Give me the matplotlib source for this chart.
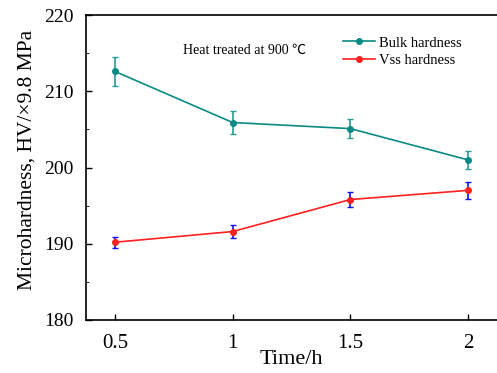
import matplotlib
matplotlib.use("Agg")
import matplotlib.pyplot as plt
from matplotlib.ticker import MultipleLocator
from matplotlib.lines import Line2D

plt.rcParams['font.family'] = ['Liberation Serif', 'Noto Sans CJK SC', 'DejaVu Serif']

time_h = [0.5, 1.0, 1.5, 2.0]
bulk = [212.6, 205.9, 205.1, 201.0]
bulk_err = [1.9, 1.5, 1.2, 1.2]
vss = [190.2, 191.6, 195.8, 197.0]
vss_err = [0.7, 0.9, 1.0, 1.1]

teal = '#0a8a84'
red = '#ff2020'

fig = plt.figure(figsize=(4.97, 3.73), dpi=100)
ax = fig.add_axes([86/497, 1-320/373, (497-86)/497, (320-15)/373])

ax.errorbar(time_h, bulk, yerr=bulk_err, color=teal, ecolor='#2a9a94',
            marker='o', markersize=4, lw=1.2, elinewidth=1.2, capsize=2)
ax.errorbar(time_h, vss, yerr=vss_err, color=red, ecolor='#1010ee',
            marker='o', markersize=4, lw=1.2, elinewidth=1.2, capsize=2)

ax.set_xlim(0.377, 2.123)
ax.set_ylim(180, 220)
ax.set_xticks([0.5, 1, 1.5, 2])
ax.set_xticklabels(['0.5', '1', '1.5', '2'])
ax.set_yticks([180, 190, 200, 210, 220])
ax.yaxis.set_minor_locator(MultipleLocator(5))
ax.tick_params(direction='in', length=4, width=1)
ax.tick_params(which='minor', direction='in', length=2.5)
ax.tick_params(axis='y', labelsize=14, pad=9)
ax.tick_params(axis='x', labelsize=15, pad=10)
ax.spines['right'].set_visible(False)
for s in ['left', 'bottom', 'top']:
    ax.spines[s].set_linewidth(1.2)

ax.set_xlabel('Time/h', fontsize=16, labelpad=-2)
ax.set_ylabel('Microhardness, HV/×9.8 MPa', fontsize=15.5)
ax.yaxis.set_label_coords(-0.12, 0.525)

ax.text(0.237, 0.885, 'Heat treated at 900 ℃', transform=ax.transAxes,
        fontsize=10, va='center', ha='left')

handles = [Line2D([], [], color=teal, marker='o', markersize=4, lw=1.2),
           Line2D([], [], color=red, marker='o', markersize=4, lw=1.2)]
ax.legend(handles, ['Bulk hardness', 'Vss hardness'], loc='upper left',
          bbox_to_anchor=(0.625, 0.93), frameon=False, borderpad=0,
          borderaxespad=0, fontsize=10.5, handlelength=2.2,
          handletextpad=0.3, labelspacing=0.3)

fig.savefig('out.png', dpi=100)
